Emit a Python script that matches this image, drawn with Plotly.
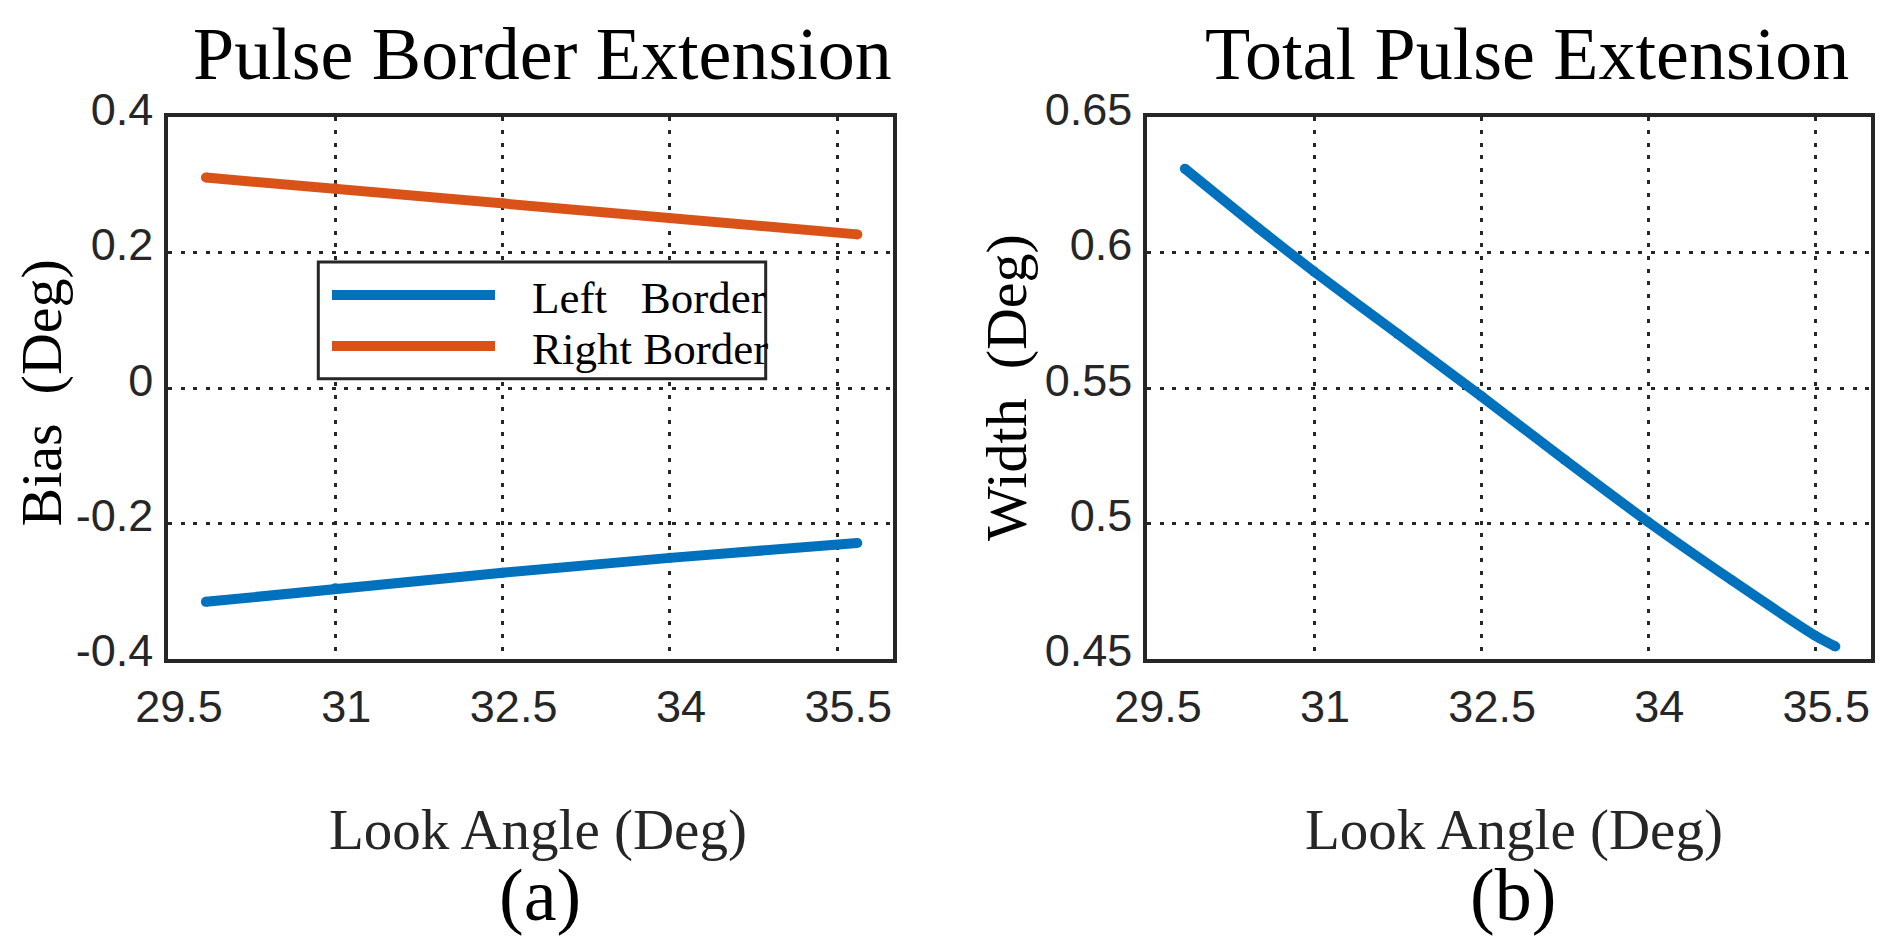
import plotly.graph_objects as go
from plotly.subplots import make_subplots

# values
LOOK_ANGLE = [29.84, 31.0, 32.5, 34.0, 35.68]
LEFT_BORDER = [-0.316, -0.296, -0.273, -0.251, -0.229]
RIGHT_BORDER = [0.311, 0.295, 0.273, 0.251, 0.227]

WIDTH_ANGLE = [29.84, 30.5, 31.0, 31.75, 32.5, 33.25, 34.0, 34.75, 35.5, 35.68]
TOTAL_WIDTH = [0.631, 0.609, 0.593, 0.570, 0.547, 0.5235, 0.5005, 0.479, 0.4585, 0.4545]

X_TICKS = [29.5, 31, 32.5, 34, 35.5]
X_TICK_TEXT = ["29.5", "31", "32.5", "34", "35.5"]
BIAS_TICKS = [-0.4, -0.2, 0, 0.2, 0.4]
BIAS_TICK_TEXT = ["-0.4", "-0.2", "0", "0.2", "0.4"]
WIDTH_TICKS = [0.45, 0.5, 0.55, 0.6, 0.65]
WIDTH_TICK_TEXT = ["0.45", "0.5", "0.55", "0.6", "0.65"]

W, H = 1892, 946
BLUE = "#0072BD"
ORANGE = "#D95319"
DARK = "#262626"
SERIF = "Liberation Serif, Times New Roman, serif"
SANS = "Liberation Sans, Arial, sans-serif"
LINE_W = 10


def px(x):
    return x / W


def py(y):
    return 1 - y / H


fig = make_subplots(rows=1, cols=2)

fig.add_trace(go.Scatter(x=LOOK_ANGLE, y=LEFT_BORDER, mode="lines+markers", name="Left Border",
                         line=dict(color=BLUE, width=LINE_W), marker=dict(color=BLUE, size=LINE_W)),
              row=1, col=1)
fig.add_trace(go.Scatter(x=LOOK_ANGLE, y=RIGHT_BORDER, mode="lines+markers", name="Right Border",
                         line=dict(color=ORANGE, width=LINE_W), marker=dict(color=ORANGE, size=LINE_W)),
              row=1, col=1)
fig.add_trace(go.Scatter(x=WIDTH_ANGLE, y=TOTAL_WIDTH, mode="lines+markers", name="Width",
                         line=dict(color=BLUE, width=LINE_W, shape="spline", smoothing=0.6),
                         marker=dict(color=BLUE, size=LINE_W)),
              row=1, col=2)

axis_common = dict(
    automargin=False,
    showline=True, mirror=True, linecolor=DARK, linewidth=3.5,
    showgrid=True, gridcolor=DARK, gridwidth=3.3, griddash="4px,8.6px",
    zeroline=False, ticks="", tickfont=dict(family=SANS, size=45, color=DARK),
    tickmode="array",
)

fig.update_xaxes(**axis_common, range=[29.5, 36], tickvals=X_TICKS, ticktext=X_TICK_TEXT,
                 ticklabelstandoff=6, ticklabelshift=11)
fig.update_yaxes(**axis_common, ticklabelstandoff=2, ticklabelshift=-8)

fig.update_layout(
    width=W, height=H,
    margin=dict(l=0, r=0, t=0, b=0, autoexpand=False),
    paper_bgcolor="white", plot_bgcolor="white",
    showlegend=False,
    xaxis=dict(domain=[px(168), px(893)]),
    xaxis2=dict(domain=[px(1147), px(1871)]),
    yaxis=dict(domain=[py(658.7), py(117.3)], range=[-0.4, 0.4],
               tickvals=BIAS_TICKS, ticktext=BIAS_TICK_TEXT),
    yaxis2=dict(domain=[py(658.7), py(117.3)], range=[0.45, 0.65],
                tickvals=WIDTH_TICKS, ticktext=WIDTH_TICK_TEXT),
)

# panel texts
texts = [
    ("Pulse Border Extension", 542, 54, 74, "black", 0),
    ("Total Pulse Extension", 1527, 54, 74, "black", 0),
    ("Look Angle (Deg)", 538, 830, 57, DARK, 0),
    ("Look Angle (Deg)", 1514, 830, 57, DARK, 0),
    ("(a)", 540, 895, 74, "black", 0),
    ("(b)", 1513, 895, 74, "black", 0),
    ("Bias\u00a0\u00a0(Deg)", 41.5, 393, 58, "black", -90),
    ("Width\u00a0\u00a0(Deg)", 1006, 388, 58, "black", -90),
]
for txt, x, y, size, color, angle in texts:
    fig.add_annotation(text=txt, x=px(x), y=py(y), xref="paper", yref="paper",
                       xanchor="center", yanchor="middle", showarrow=False, textangle=angle,
                       font=dict(family=SERIF, size=size, color=color))

# legend box drawn by hand so the line samples can be long
fig.add_shape(type="rect", xref="paper", yref="paper",
              x0=px(318.3), x1=px(765.7), y0=py(378.7), y1=py(262),
              line=dict(color=DARK, width=3), fillcolor="white")
for label, color, y in [("Left\u00a0\u00a0\u00a0Border", BLUE, 295), ("Right\u00a0Border", ORANGE, 346)]:
    fig.add_shape(type="line", xref="paper", yref="paper",
                  x0=px(332), x1=px(495), y0=py(y), y1=py(y),
                  line=dict(color=color, width=LINE_W))
    fig.add_annotation(text=label, x=px(530), y=py(y + 3), xref="paper", yref="paper",
                       xanchor="left", yanchor="middle", showarrow=False,
                       font=dict(family=SERIF, size=45, color="black"))

fig.write_html("out.html", post_script="document.body.style.margin='0';",
               config=dict(displayModeBar=False))
